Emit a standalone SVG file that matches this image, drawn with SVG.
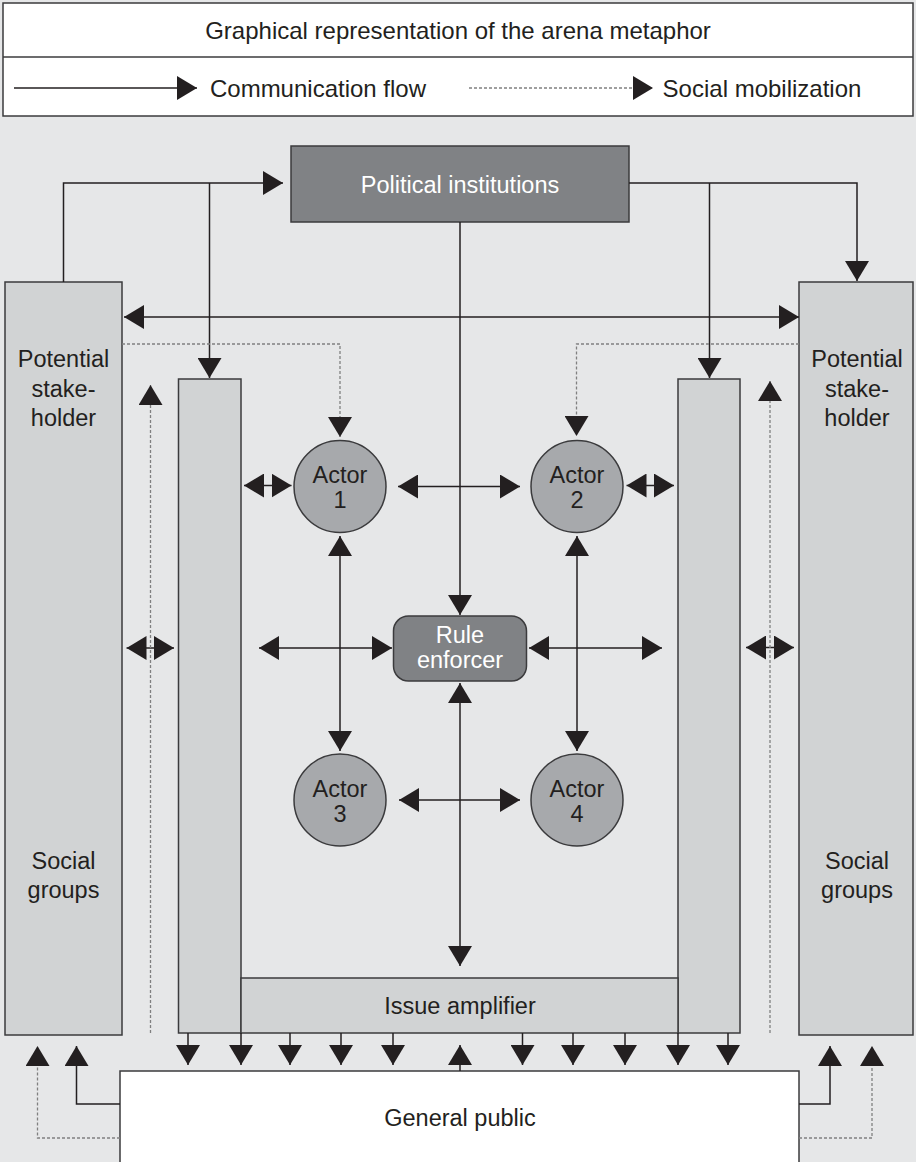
<svg xmlns="http://www.w3.org/2000/svg" width="916" height="1162" viewBox="0 0 916 1162">
  <style>
    text { font-family: "Liberation Sans", Arial, sans-serif; font-size: 23.5px; fill: #231f20; text-anchor: middle; }
    .head { font-size: 24px; }
    .light { fill: #ffffff; }
    .box { stroke: #3b3b3d; stroke-width: 1.5; }
    .pale { fill: #d1d3d4; }
    .dark { fill: #808285; }
    .actor { fill: #a7a9ac; }
    .flow { fill: none; stroke: #231f20; stroke-width: 1.5; }
    .mob { fill: none; stroke: #808080; stroke-width: 1.3; stroke-dasharray: 3 2; }
    .one { marker-end: url(#ah); }
    .two { marker-start: url(#ah); marker-end: url(#ah); }
  </style>
  <defs>
    <marker id="ah" viewBox="0 0 20 24" refX="20" refY="12" markerWidth="20" markerHeight="24" markerUnits="userSpaceOnUse" orient="auto-start-reverse">
      <path d="M0,0 L20,12 L0,24 Z" fill="#231f20"/>
    </marker>
  </defs>

  <!-- canvas -->
  <rect x="0" y="0" width="916" height="1162" fill="#e6e7e8"/>

  <!-- heading and legend -->
  <g id="legend">
    <rect x="3" y="3" width="910" height="113" fill="#ffffff" stroke="#3b3b3d" stroke-width="1.5"/>
    <line x1="3" y1="57" x2="913" y2="57" stroke="#3b3b3d" stroke-width="1.5"/>
    <text class="head" x="458" y="39">Graphical representation of the arena metaphor</text>
    <path class="flow one" d="M14,88 H197"/>
    <text class="head" x="318" y="97">Communication flow</text>
    <path class="mob one" d="M469,88 H653"/>
    <text class="head" x="762" y="97">Social mobilization</text>
  </g>

  <!-- nodes -->
  <g id="political-institutions">
    <rect class="box dark" x="291" y="146" width="338" height="76"/>
    <text class="light" x="460" y="193">Political institutions</text>
  </g>

  <g id="stakeholder-left">
    <rect class="box pale" x="5" y="282" width="117" height="753"/>
    <text x="63.5" y="367">Potential</text>
    <text x="63.5" y="396.5">stake-</text>
    <text x="63.5" y="426">holder</text>
    <text x="63.5" y="869">Social</text>
    <text x="63.5" y="898">groups</text>
  </g>

  <g id="stakeholder-right">
    <rect class="box pale" x="799" y="282" width="114" height="753"/>
    <text x="857" y="367">Potential</text>
    <text x="857" y="396.5">stake-</text>
    <text x="857" y="426">holder</text>
    <text x="857" y="869">Social</text>
    <text x="857" y="898">groups</text>
  </g>

  <g id="column-left">
    <rect class="box pale" x="178.5" y="379" width="62.5" height="654"/>
  </g>

  <g id="column-right">
    <rect class="box pale" x="678" y="379" width="62" height="654"/>
  </g>

  <g id="issue-amplifier">
    <rect class="box pale" x="241" y="978" width="437" height="55"/>
    <text x="460" y="1014">Issue amplifier</text>
  </g>

  <g id="actor-1">
    <circle class="box actor" cx="340" cy="486.5" r="46"/>
    <text x="340" y="483">Actor</text>
    <text x="340" y="508">1</text>
  </g>

  <g id="actor-2">
    <circle class="box actor" cx="577" cy="486.5" r="46"/>
    <text x="577" y="483">Actor</text>
    <text x="577" y="508">2</text>
  </g>

  <g id="actor-3">
    <circle class="box actor" cx="340" cy="800" r="46"/>
    <text x="340" y="797">Actor</text>
    <text x="340" y="822">3</text>
  </g>

  <g id="actor-4">
    <circle class="box actor" cx="577" cy="800" r="46"/>
    <text x="577" y="797">Actor</text>
    <text x="577" y="822">4</text>
  </g>

  <g id="rule-enforcer">
    <rect class="box dark" x="393.5" y="616" width="133" height="65" rx="15" ry="15"/>
    <text class="light" x="460" y="643">Rule</text>
    <text class="light" x="460" y="668">enforcer</text>
  </g>

  <g id="general-public">
    <rect class="box" x="120" y="1071" width="679" height="100" fill="#ffffff"/>
    <text x="460" y="1126">General public</text>
  </g>

  <!-- connectors -->
  <g id="connectors">
    <!-- communication flow -->
    <path class="flow one" d="M63.5,282 V183 H283"/>
    <path class="flow one" d="M209.5,183 V378"/>
    <path class="flow one" d="M629,183 H857 V281"/>
    <path class="flow one" d="M709.5,183 V378"/>
    <path class="flow two" d="M124,317 H799"/>
    <path class="flow one" d="M460,222 V615"/>
    <path class="flow two" d="M398,486.5 H520"/>
    <path class="flow two" d="M399,800 H520"/>
    <path class="flow two" d="M340,536 V751"/>
    <path class="flow two" d="M577,536 V751"/>
    <path class="flow two" d="M259,648 H392"/>
    <path class="flow two" d="M529,648 H662"/>
    <path class="flow two" d="M460,683 V966"/>
    <path class="flow two" d="M244,485.5 H291.5"/>
    <path class="flow two" d="M626.5,485.5 H674"/>
    <path class="flow two" d="M126.5,648 H174"/>
    <path class="flow two" d="M746,647.5 H794"/>
    <path class="flow one" d="M188,1033 V1065"/>
    <path class="flow one" d="M241,1033 V1065"/>
    <path class="flow one" d="M290,1033 V1065"/>
    <path class="flow one" d="M341,1033 V1065"/>
    <path class="flow one" d="M393,1033 V1065"/>
    <path class="flow one" d="M522.5,1033 V1065"/>
    <path class="flow one" d="M573,1033 V1065"/>
    <path class="flow one" d="M625,1033 V1065"/>
    <path class="flow one" d="M678,1033 V1065"/>
    <path class="flow one" d="M728,1033 V1065"/>
    <path class="flow one" d="M460,1071 V1045"/>
    <path class="flow one" d="M120,1104 H76.5 V1046"/>
    <path class="flow one" d="M799,1104 H830 V1046"/>
    <!-- social mobilization -->
    <path class="mob one" d="M122,344 H340 V437"/>
    <path class="mob one" d="M799,344 H576.5 V436"/>
    <path class="mob one" d="M150.5,1033 V385"/>
    <path class="mob one" d="M770,1033 V381"/>
    <path class="mob one" d="M120,1138 H37.5 V1046"/>
    <path class="mob one" d="M799,1138 H872 V1046"/>
  </g>
</svg>
